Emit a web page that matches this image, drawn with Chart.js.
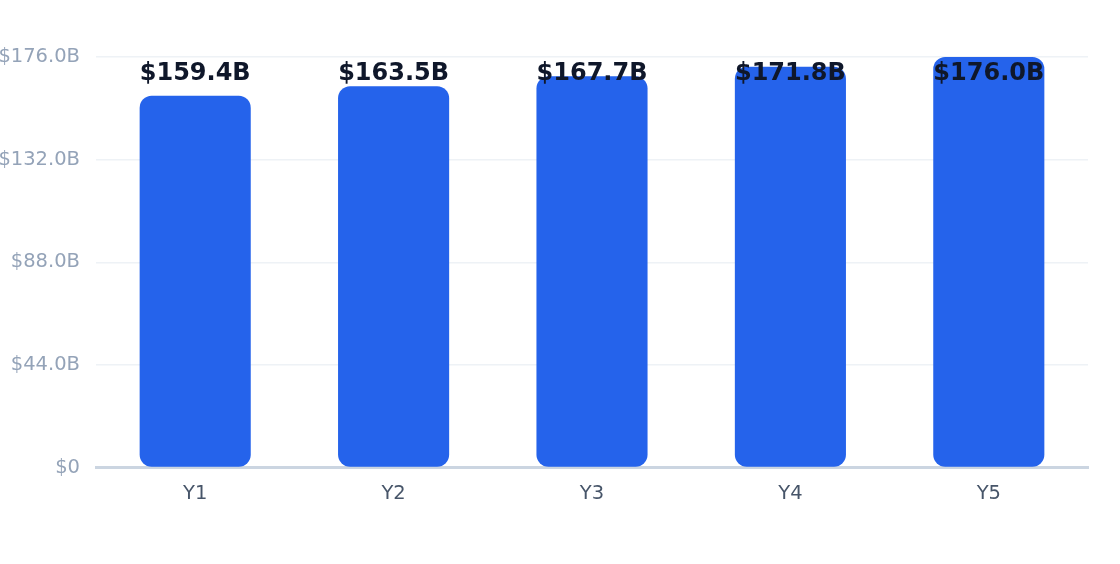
<!DOCTYPE html>
<html><head><meta charset="utf-8">
<script src="https://cdn.jsdelivr.net/npm/chart.js@4"></script>
<style>html,body{margin:0;padding:0;background:#fff}#wrap{width:1120px;height:564px}</style>
</head><body><div id="wrap"><canvas id="c"></canvas></div>
<script>
const categories = ["Y1","Y2","Y3","Y4","Y5"];
const values = [159.4, 163.5, 167.7, 171.8, 176.0];
const yTicks = [0, 44, 88, 132, 176];

const fmt = v => v === 0 ? "$0" : "$" + v.toFixed(1) + "B";

const labelPlugin = {
  id: "valueLabels",
  afterDatasetsDraw(chart) {
    const ctx = chart.ctx;
    const meta = chart.getDatasetMeta(0);
    const top = chart.chartArea.top;
    ctx.save();
    ctx.font = "bold 24px 'DejaVu Sans'";
    ctx.fillStyle = "#0f172a";
    ctx.textAlign = "center";
    ctx.textBaseline = "middle";
    meta.data.forEach((bar, i) => {
      const y = Math.max(bar.y - 23, top + 17);
      ctx.fillText(fmt(values[i]), bar.x, y);
    });
    ctx.restore();
  }
};

new Chart(document.getElementById("c"), {
  type: "bar",
  data: {
    labels: categories,
    datasets: [{
      data: values,
      backgroundColor: "#2563eb",
      borderRadius: 12,
      borderSkipped: false,
      barPercentage: 0.7,
      categoryPercentage: 0.8
    }]
  },
  options: {
    responsive: true,
    maintainAspectRatio: false,
    animation: false,
    devicePixelRatio: 1,
    layout: { padding: { top: 57, right: 32, bottom: 43, left: 0 } },
    plugins: { legend: { display: false }, tooltip: { enabled: false } },
    scales: {
      x: {
        grid: { display: false, drawTicks: false },
        border: { display: true, color: "#cbd5e1", width: 3 },
        ticks: { color: "#475569", font: { family: "DejaVu Sans", size: 19.5 }, padding: 15 }
      },
      y: {
        min: 0, max: 176,
        afterFit(s) { s.width = 96; },
        afterBuildTicks(s) { s.ticks = yTicks.map(v => ({ value: v })); },
        grid: { color: "#eef2f6", lineWidth: 1.5, drawTicks: false },
        border: { display: false },
        ticks: { color: "#94a3b8", font: { family: "DejaVu Sans", size: 19.5 }, padding: 16, callback: v => fmt(v) }
      }
    }
  },
  plugins: [labelPlugin]
});
</script></body></html>
